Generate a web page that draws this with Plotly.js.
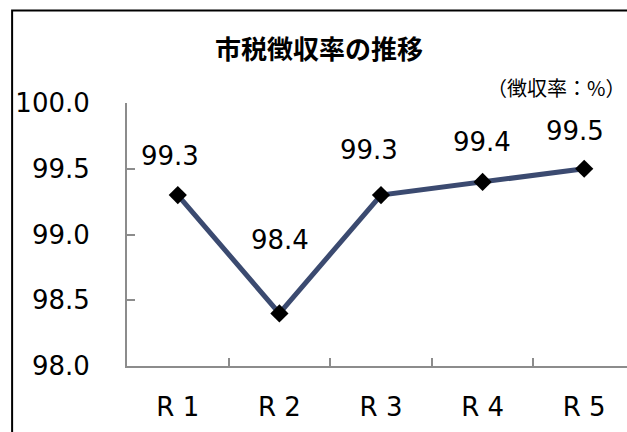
<!DOCTYPE html>
<html>
<head>
<meta charset="utf-8">
<script src="https://cdn.plot.ly/plotly-3.0.1.min.js"></script>
<style>
  html, body { margin: 0; padding: 0; overflow: hidden; background: #fff; }
  #chart { width: 680px; height: 470px; }
</style>
</head>
<body>
<div id="chart"></div>
<script>
// 市税徴収率 (%) by fiscal year
const years = ['R 1', 'R 2', 'R 3', 'R 4', 'R 5'];
const rates = [99.3, 98.4, 99.3, 99.4, 99.5];
const yTicks = [98.0, 98.5, 99.0, 99.5, 100.0];

// label nudges (px) for the value labels above each point
const labelDx = [-8, 1, -12, -1, -9];
const labelDy = [39, 73, 45, 40, 38];

const W = 680, H = 470;
const plotL = 127, plotR = 635.5, plotT = 103.3, plotB = 366;
const pw = plotR - plotL, ph = plotB - plotT;
const px = v => (v - plotL) / pw;          // page x -> paper x
const py = v => 1 - (v - plotT) / ph;      // page y -> paper y

const FONT = 'DejaVu Sans, Verdana, sans-serif';
const CJK = '"Noto Sans CJK JP", "Noto Sans", sans-serif';

const trace = {
  type: 'scatter',
  mode: 'lines+markers',
  x: years,
  y: rates,
  line: { color: '#3b4a70', width: 5 },
  marker: { symbol: 'diamond', size: 14, color: '#000' },
  hoverinfo: 'x+y',
  cliponaxis: false
};

const valueLabels = rates.map((v, i) => ({
  x: years[i], y: v, xref: 'x', yref: 'y',
  text: v.toFixed(1), showarrow: false,
  xshift: labelDx[i], yshift: labelDy[i],
  font: { family: FONT, size: 26, color: '#000' }
}));

const layout = {
  width: W, height: H,
  margin: { l: plotL, r: W - plotR, t: plotT, b: H - plotB, pad: 0 },
  paper_bgcolor: '#fff',
  plot_bgcolor: '#fff',
  showlegend: false,
  title: {
    text: '市税徴収率の推移',
    xref: 'container', yref: 'container',
    x: 319 / W, y: 1 - 50 / H,
    xanchor: 'center', yanchor: 'middle',
    font: { family: CJK, size: 26, weight: 'bold', color: '#000' }
  },
  xaxis: {
    type: 'category',
    range: [-0.5, 4.5],
    showline: true, linecolor: '#8c8c8c', linewidth: 2,
    showgrid: false, zeroline: false,
    tickson: 'boundaries',
    ticks: 'inside', ticklen: 8, tickcolor: '#8c8c8c', tickwidth: 2,
    ticklabelstandoff: 17,
    tickfont: { family: FONT, size: 26, color: '#000' }
  },
  yaxis: {
    range: [98, 100],
    tickmode: 'array', tickvals: yTicks,
    ticktext: yTicks.map(v => v.toFixed(1)),
    showline: true, linecolor: '#8c8c8c', linewidth: 2,
    showgrid: false, zeroline: false,
    ticks: 'inside', ticklen: 8, tickcolor: '#8c8c8c', tickwidth: 2,
    ticklabelstandoff: 30,
    tickfont: { family: FONT, size: 26, color: '#000' }
  },
  annotations: valueLabels.concat([{
    text: '（徴収率：%）',
    xref: 'paper', yref: 'paper',
    x: px(627), y: py(88),
    xanchor: 'right', yanchor: 'middle',
    showarrow: false,
    font: { family: CJK, size: 20, color: '#000' }
  }]),
  shapes: [{
    type: 'rect', xref: 'paper', yref: 'paper',
    x0: px(12), x1: px(W + 20), y0: py(H + 20), y1: py(11),
    line: { color: '#000', width: 2 }, fillcolor: 'rgba(0,0,0,0)', layer: 'above'
  }]
};

Plotly.newPlot('chart', [trace], layout, { displayModeBar: false, staticPlot: true });
</script>
</body>
</html>
